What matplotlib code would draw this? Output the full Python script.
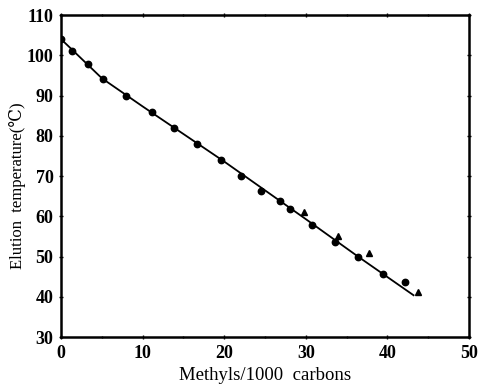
import matplotlib.pyplot as plt
from matplotlib.ticker import MultipleLocator

plt.rcParams["font.family"] = ["Liberation Serif", "DejaVu Serif"]

# measured samples (circles) and second series (triangles)
circle_methyls = [0.0, 1.3, 3.3, 5.1, 8.0, 11.1, 13.8, 16.6, 19.6, 22.1,
                  24.5, 26.8, 28.0, 30.8, 33.6, 36.4, 39.4, 42.1]
circle_temps = [104.0, 101.1, 97.8, 94.0, 89.9, 85.9, 82.0, 77.9, 73.9, 70.0,
                66.2, 63.9, 61.9, 57.9, 53.7, 49.9, 45.6, 43.6]
tri_methyls = [29.8, 33.9, 37.7, 43.8]
tri_temps = [61.0, 55.2, 50.8, 41.3]

# calibration curve
curve_methyls = [0.0, 1.3, 5.0, 10.0, 20.0, 30.0, 36.4, 43.2]
curve_temps = [104.0, 101.5, 94.3, 87.3, 73.6, 59.3, 50.0, 40.4]

fig = plt.figure(figsize=(4.85, 3.87), dpi=100)
ax = fig.add_axes([0.126, 0.129, 0.841, 0.832])

ax.plot(curve_methyls, curve_temps, color="black", lw=1.3)
ax.plot(circle_methyls, circle_temps, "o", color="black", ms=4.6)
ax.plot(tri_methyls, tri_temps, "^", color="black", ms=4.4)

ax.set_xlim(0, 50)
ax.set_ylim(30, 110)
ax.xaxis.set_major_locator(MultipleLocator(10))
ax.xaxis.set_minor_locator(MultipleLocator(5))
ax.yaxis.set_major_locator(MultipleLocator(10))
ax.tick_params(which="both", direction="inout", length=3, width=1,
               top=True, right=True, labelsize=13, pad=4)
ax.tick_params(which="minor", length=2)
for lab in ax.get_xticklabels() + ax.get_yticklabels():
    lab.set_fontweight("bold")
for s in ax.spines.values():
    s.set_linewidth(1.8)

ax.set_xlabel("Methyls/1000  carbons", fontsize=13.5, labelpad=4)
ax.set_ylabel("Elution  temperature(\u2103)", fontsize=12, labelpad=4)
ax.yaxis.set_label_coords(-0.085, 0.47)

fig.savefig("out.png", dpi=100, facecolor="white")
